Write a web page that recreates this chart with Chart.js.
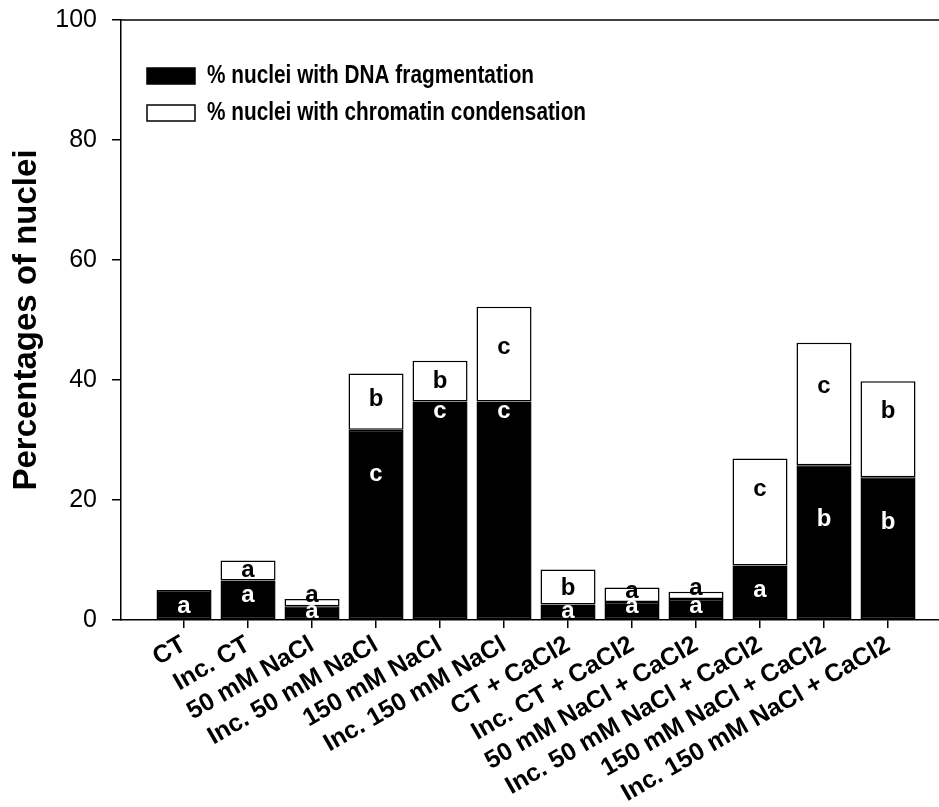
<!DOCTYPE html>
<html>
<head>
<meta charset="utf-8">
<script src="https://cdn.jsdelivr.net/npm/chart.js@4.4.1/dist/chart.umd.min.js"></script>
<style>
  html, body { margin: 0; padding: 0; background: #fff; overflow: hidden; }
  canvas { display: block; }
</style>
</head>
<body>
<canvas id="nucleiChart" width="939" height="807"></canvas>
<script>
// Treatments (x axis)
const categories = [
  'CT', 'Inc. CT', '50 mM NaCl', 'Inc. 50 mM NaCl', '150 mM NaCl', 'Inc. 150 mM NaCl',
  'CT + CaCl2', 'Inc. CT + CaCl2', '50 mM NaCl + CaCl2', 'Inc. 50 mM NaCl + CaCl2',
  '150 mM NaCl + CaCl2', 'Inc. 150 mM NaCl + CaCl2'
];

// % nuclei with DNA fragmentation (black, bottom of stack)
const fragmentation = [5.0, 6.6, 2.3, 31.7, 36.4, 36.4, 2.6, 3.0, 3.5, 9.1, 25.8, 23.8];
// % nuclei with chromatin condensation (white, stacked on top)
const condensation = [0, 3.3, 1.2, 9.4, 6.8, 15.8, 5.8, 2.4, 1.2, 17.8, 20.4, 16.0];

// significance letters and the value (in %) where each one sits
const fragLetters = ['a', 'a', 'a', 'c', 'c', 'c', 'a', 'a', 'a', 'a', 'b', 'b'];
const fragLetterAt = [2.3, 4.1, 1.5, 24.3, 34.7, 34.7, 1.5, 2.2, 2.2, 4.9, 16.7, 16.3];
const condLetters = ['', 'a', 'a', 'b', 'b', 'c', 'b', 'a', 'a', 'c', 'c', 'b'];
const condLetterAt = [0, 8.3, 4.1, 36.7, 39.7, 45.5, 5.3, 4.7, 5.2, 21.7, 39.0, 34.7];

const yTicks = [0, 20, 40, 60, 80, 100];

const FONT = '"Liberation Sans", Arial, Helvetica, sans-serif';

// letters on the bars
const letterPlugin = {
  id: 'letters',
  afterDatasetsDraw(chart) {
    const { ctx } = chart;
    const xs = chart.scales.x, ys = chart.scales.y;
    ctx.save();
    ctx.font = 'bold 24px ' + FONT;
    ctx.textAlign = 'center';
    ctx.textBaseline = 'middle';
    categories.forEach((c, i) => {
      const x = xs.getPixelForValue(i);
      if (fragLetters[i]) {
        ctx.fillStyle = '#fff';
        ctx.fillText(fragLetters[i], x, ys.getPixelForValue(fragLetterAt[i]));
      }
      if (condLetters[i]) {
        ctx.fillStyle = '#000';
        ctx.fillText(condLetters[i], x, ys.getPixelForValue(condLetterAt[i]));
      }
    });
    ctx.restore();
  }
};

// top frame line + legend inside the plot
const framePlugin = {
  id: 'frame',
  afterDraw(chart) {
    const { ctx, chartArea } = chart;
    ctx.save();
    ctx.strokeStyle = '#000';
    ctx.lineWidth = 1.5;
    ctx.beginPath();
    ctx.moveTo(chartArea.left, chartArea.top);
    ctx.lineTo(chartArea.right, chartArea.top);
    ctx.stroke();

    // legend (narrow bold text, like the original)
    const rows = [76, 113];
    chart.data.datasets.forEach((ds, k) => {
      const cy = rows[k];
      ctx.fillStyle = ds.backgroundColor;
      ctx.fillRect(147, cy - 8, 48, 16);
      ctx.lineWidth = 1.5;
      ctx.strokeStyle = '#000';
      ctx.strokeRect(147, cy - 8, 48, 16);
      ctx.save();
      ctx.translate(207, cy);
      ctx.scale(0.8, 1);
      ctx.fillStyle = '#000';
      ctx.font = 'bold 26px ' + FONT;
      ctx.textAlign = 'left';
      ctx.textBaseline = 'middle';
      ctx.fillText(ds.label, 0, 0);
      ctx.restore();
    });
    ctx.restore();
  }
};

const ctx = document.getElementById('nucleiChart').getContext('2d');
const nucleiChart = new Chart(ctx, {
  type: 'bar',
  data: {
    datasets: [
      {
        label: '% nuclei with DNA fragmentation',
        data: fragmentation.map((v, i) => ({ x: i, y: v })),
        backgroundColor: '#000',
        borderColor: '#000',
        borderWidth: 1.5,
        borderSkipped: false,
        categoryPercentage: 1,
        barPercentage: 0.86
      },
      {
        label: '% nuclei with chromatin condensation',
        data: condensation.map((v, i) => ({ x: i, y: v })),
        backgroundColor: '#fff',
        borderColor: '#000',
        borderWidth: 1.5,
        borderSkipped: false,
        categoryPercentage: 1,
        barPercentage: 0.86
      }
    ]
  },
  options: {
    responsive: false,
    animation: false,
    layout: { padding: { top: 20, right: 0, left: 0, bottom: 0 } },
    plugins: {
      legend: { display: false },
      tooltip: { enabled: false }
    },
    scales: {
      x: {
        type: 'linear',
        stacked: true,
        offset: false,
        min: -0.985,
        max: 11.797,
        afterBuildTicks: (scale) => { scale.ticks = categories.map((c, i) => ({ value: i })); },
        afterFit: (scale) => { scale.height = 187; scale.paddingLeft = 0; scale.paddingRight = 0; },
        ticks: {
          autoSkip: false,
          minRotation: 30,
          maxRotation: 30,
          padding: 2,
          color: '#000',
          font: { family: FONT, size: 25, weight: 'bold' },
          callback: (value) => categories[value]
        },
        grid: { offset: false, drawOnChartArea: false, drawTicks: true, tickLength: 8, color: '#000', lineWidth: 1.5 },
        border: { display: true, color: '#000', width: 1.5 }
      },
      y: {
        stacked: true,
        min: 0,
        max: 100,
        afterBuildTicks: (scale) => { scale.ticks = yTicks.map(v => ({ value: v })); },
        afterFit: (scale) => { scale.width = 121; scale.paddingTop = 0; scale.paddingBottom = 0; },
        ticks: {
          padding: 15,
          color: '#000',
          font: { family: FONT, size: 25 }
        },
        grid: { drawOnChartArea: false, drawTicks: true, tickLength: 9, color: '#000', lineWidth: 1.5 },
        border: { display: true, color: '#000', width: 1.5 },
        title: {
          display: true,
          text: 'Percentages of nuclei',
          color: '#000',
          font: { family: FONT, size: 33, weight: 'bold' },
          padding: { top: 7, bottom: 0 }
        }
      }
    }
  },
  plugins: [letterPlugin, framePlugin]
});
</script>
</body>
</html>
